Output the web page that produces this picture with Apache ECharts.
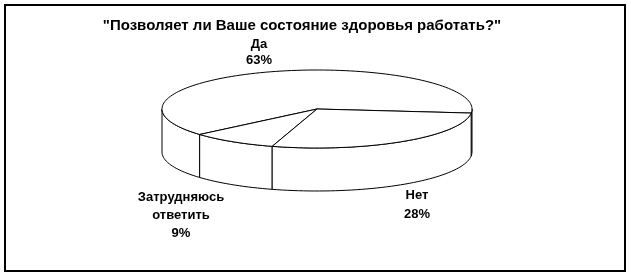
<!DOCTYPE html>
<html>
<head>
<meta charset="utf-8">
<script src="https://cdn.jsdelivr.net/npm/echarts@6/dist/echarts.min.js"></script>
<style>html,body{margin:0;padding:0;background:#fff}#c{width:631px;height:275px}</style>
</head>
<body>
<div id="c"></div>
<script>
// Data (counter-clockwise drawing order starting at the right edge)
const categories = ['Да', 'Затрудняюсь ответить', 'Нет'];
const labelLines = [['Да'], ['Затрудняюсь', 'ответить'], ['Нет']];
const values = [63, 9, 28];
const titleText = '"Позволяет ли Ваше состояние здоровья работать?"';

// Layout (not data)
const geo = { cx: 317, cy: 109, rx: 155, ry: 39, depth: 43, startDeg: -6 };
const labelPos = [[259, 52], [181, 215], [417, 205]];
const labelLH = [16, 18, 19];
const font = '"Liberation Sans", Arial, sans-serif';

const total = values.reduce((a, b) => a + b, 0);
const starts = [];
{ let acc = geo.startDeg; for (const v of values) { starts.push(acc); acc += v / total * 360; } }

function pt(deg, dy) {
  const r = deg * Math.PI / 180;
  return [geo.cx + geo.rx * Math.cos(r), geo.cy - geo.ry * Math.sin(r) + (dy || 0)];
}
function arc(a, b, dy) {
  const pts = []; const n = Math.max(2, Math.ceil(Math.abs(b - a) / 2));
  for (let i = 0; i <= n; i++) pts.push(pt(a + (b - a) * i / n, dy));
  return pts;
}
const lineStyle = { fill: '#fff', stroke: '#000', lineWidth: 1 };

function sideItem(params, api) {
  const idx = params.dataIndex;
  const s = starts[idx], e = s + api.value(0) / total * 360;
  const children = [];
  for (const [lo, hi] of [[-180, 0], [180, 360]]) {
    const a = Math.max(s, lo), b = Math.min(e, hi);
    if (b > a) {
      const top = arc(a, b, 0), bot = arc(b, a, geo.depth);
      children.push({ type: 'polygon', shape: { points: top.concat(bot) }, style: lineStyle });
    }
  }
  return { type: 'group', children };
}
function topItem(params, api) {
  const idx = params.dataIndex;
  const s = starts[idx], e = s + api.value(0) / total * 360;
  const pts = [[geo.cx, geo.cy]].concat(arc(s, e, 0));
  const lp = labelPos[idx];
  const txt = labelLines[idx].join('\n') + '\n' + Math.round(api.value(0) / total * 100) + '%';
  return { type: 'group', children: [
    { type: 'polygon', shape: { points: pts }, style: lineStyle },
    { type: 'text', x: lp[0], y: lp[1], style: { text: txt, fill: '#000', font: 'bold 13px ' + font,
      align: 'center', verticalAlign: 'middle', lineHeight: labelLH[idx] } }
  ] };
}

const chart = echarts.init(document.getElementById('c'), null, { renderer: 'canvas' });
chart.setOption({
  animation: false,
  backgroundColor: '#fff',
  title: { text: titleText, left: 297, top: 13, textAlign: 'center',
    textStyle: { fontFamily: font, fontWeight: 'bold', fontSize: 15, color: '#000' } },
  graphic: [{ type: 'rect', shape: { x: 5, y: 5, width: 620, height: 266 },
    style: { fill: 'none', stroke: '#000', lineWidth: 2 }, z: 100 }],
  series: [
    { type: 'custom', coordinateSystem: 'none', renderItem: sideItem, z: 1,
      data: values.map((v, i) => ({ name: categories[i], value: [v] })) },
    { type: 'custom', coordinateSystem: 'none', renderItem: topItem, z: 2,
      data: values.map((v, i) => ({ name: categories[i], value: [v] })) }
  ]
});
</script>
</body>
</html>
